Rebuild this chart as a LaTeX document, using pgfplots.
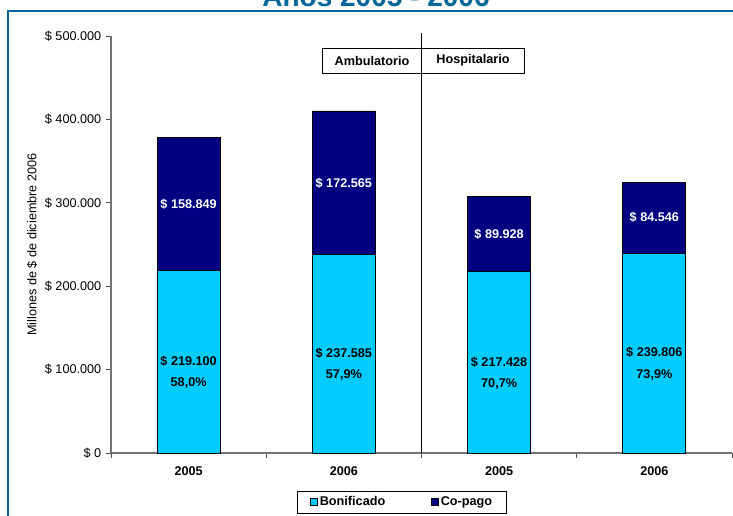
\documentclass[border=0pt]{standalone}
\usepackage{pgfplots}
\pgfplotsset{compat=1.18}
\usepackage{fontspec}
\setmainfont{Liberation Sans}
\definecolor{bonif}{RGB}{0,204,255}
\definecolor{copago}{RGB}{0,0,128}
\definecolor{frameblue}{RGB}{0,102,153}

\begin{document}
\begin{tikzpicture}
\useasboundingbox (0,0) rectangle (549.75pt,-387pt);
\clip (0,0) rectangle (549.75pt,-387pt);
% frame and cut-off title
\draw[frameblue, line width=1.6pt] (6pt,-400pt) -- (6pt,-8.25pt) -- (560pt,-8.25pt);
\node[anchor=base, text=frameblue, font=\bfseries\fontsize{21}{21}\selectfont] at (282pt,-5.25pt) {Años 2005 - 2006};

\begin{axis}[
  at={(83.25pt,-339.75pt)}, anchor=south west,
  scale only axis, width=465.75pt, height=312.75pt,
  ybar stacked, bar width=47.25pt,
  xmin=-0.5, xmax=3.5, ymin=0, ymax=500000,
  axis lines*=left,
  axis line style={black!55, line width=0.8pt},
  tick align=outside,
  major tick length=3.75pt,
  tick style={black!70, line width=0.6pt},
  xtick={-0.5,0.5,1.5,2.5,3.5},
  x tick label as interval,
  xticklabels={2005,2006,2005,2006},
  xticklabel style={font=\bfseries\fontsize{9.5}{11}\selectfont, yshift=-3pt},
  ytick={0,100000,200000,300000,400000,500000},
  yticklabels={{\$ 0},{\$ 100.000},{\$ 200.000},{\$ 300.000},{\$ 400.000},{\$ 500.000}},
  yticklabel style={font=\fontsize{9.5}{11}\selectfont},
  scaled y ticks=false,
  ylabel={Millones de \$ de diciembre 2006},
  ylabel style={font=\fontsize{9.5}{11}\selectfont, at={(axis description cs:-0.127,0.5)}, anchor=center},
  clip=false,
  point meta=explicit symbolic,
  nodes near coords,
  nodes near coords align=center,
  every node near coord/.append style={align=center, anchor=center,
    font=\bfseries\fontsize{9.5}{16}\selectfont},
  legend style={at={(axis description cs:0.469,-0.1175)}, anchor=center,
    legend columns=2, draw=black, line width=0.6pt,
    font=\fontsize{9.5}{11}\selectfont\bfseries,
    inner xsep=9pt, inner ysep=2pt,
    /tikz/every even column/.append style={column sep=32pt}},
  legend image code/.code={\draw[#1, draw=black, line width=0.4pt] (0pt,-2.6pt) rectangle (5.2pt,2.6pt);},
]
\addplot[fill=bonif, draw=black, line width=0.6pt,
  every node near coord/.append style={text=black, yshift=-8pt}] coordinates {
  (0,219100) [\$ 219.100\\58,0\%]
  (1,237585) [\$ 237.585\\57,9\%]
  (2,217428) [\$ 217.428\\70,7\%]
  (3,239806) [\$ 239.806\\73,9\%]
};
\addplot[fill=copago, draw=black, line width=0.6pt,
  every node near coord/.append style={text=white}] coordinates {
  (0,158849) [\$ 158.849]
  (1,172565) [\$ 172.565]
  (2,89928) [\$ 89.928]
  (3,84546) [\$ 84.546]
};
\legend{Bonificado, Co-pago}
\draw[black, line width=0.6pt] (axis cs:1.5,0) -- (axis cs:1.5,504000);
\end{axis}

% Ambulatorio / Hospitalario box
\draw[black, line width=0.6pt] (241.5pt,-36pt) rectangle (393pt,-54.75pt);
\node[font=\bfseries\fontsize{9.5}{11}\selectfont] at (279pt,-45.4pt) {Ambulatorio};
\node[font=\bfseries\fontsize{9.5}{11}\selectfont] at (354.75pt,-45.4pt) {Hospitalario};
\end{tikzpicture}
\end{document}
